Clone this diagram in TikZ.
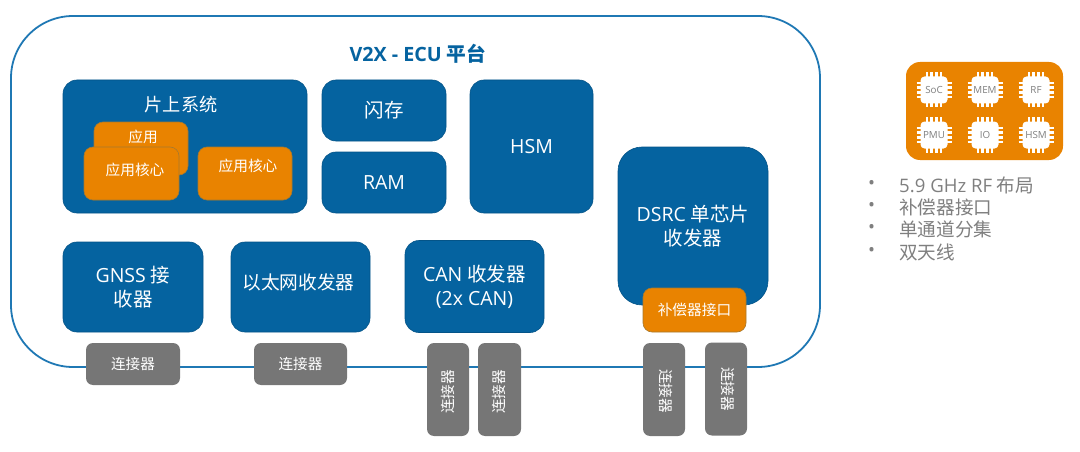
\documentclass[tikz,border=0pt]{standalone}
\usepackage{fontspec}
\setmainfont{Open Sans}
\newfontfamily\cjk{Noto Sans CJK SC}
\definecolor{ecublue}{HTML}{0563A0}
\definecolor{eculine}{HTML}{1F78B4}
\definecolor{ecuorange}{HTML}{E98300}
\definecolor{ecugray}{HTML}{767676}
\definecolor{listgray}{HTML}{7F7F7F}
\tikzset{
  bluebox/.style={draw=ecublue!85!black, line width=0.6pt, fill=ecublue, rounded corners=14pt, text=white, align=center, font=\fontsize{19.5}{24}\selectfont},
  orangebox/.style={draw=ecublue!30!ecuorange, line width=0.6pt, fill=ecuorange, rounded corners=9pt, text=white, align=center, font=\fontsize{14.7}{17}\selectfont},
  orangetext/.style={text=white, inner sep=0pt, font=\fontsize{14.7}{17}\selectfont},
  bluetext/.style={text=white, inner sep=0pt, font=\fontsize{18.7}{24}\selectfont},
  graybox/.style={fill=ecugray, rounded corners=7pt, text=white, align=center, font=\fontsize{14.6}{17}\selectfont},
  chipbox/.style={fill=white, rounded corners=4pt, minimum size=27pt, inner sep=0pt, text=listgray, font=\fontsize{9.8}{10}\selectfont},
  listitem/.style={anchor=west, inner sep=0pt, text=listgray, font=\fontsize{18.6}{22}\selectfont},
}
% one chip of the panel, with its pins
\newcommand{\chipat}[3]{
  \foreach \d in {-7,-2.5,2.5,7} {
    \draw[white, line width=2.2pt] (#1+\d,#2-17.5) -- (#1+\d,#2+17.5);
    \draw[white, line width=2.2pt] (#1-17.5,#2+\d) -- (#1+17.5,#2+\d);
  }
  \node[chipbox] (#3) at (#1,#2) {#3};
}
\begin{document}
\begin{tikzpicture}[x=1pt,y=-1pt]
\useasboundingbox (0,0) rectangle (1080,452);

\node[draw=eculine, line width=1.8pt, fill=white, rounded corners=62pt, minimum width=809pt, minimum height=351pt, inner sep=0pt] (platform) at (415.5,191.5) {};
\node[text=ecublue, font=\bfseries\fontsize{19.7}{22}\selectfont] (title) at (418,54) {V2X - ECU {\cjk 平台}};

% soc
\node[bluebox, minimum width=244pt, minimum height=133pt] (soc) at (185,146.5) {};
\node[text=white, font=\fontsize{18.2}{20}\selectfont] (soclabel) at (181,105) {\cjk 片上系统};
\node[orangebox, minimum width=94pt, minimum height=53pt] (app) at (141,148.5) {};
\node[orangetext] (applabel) at (143,137) {\cjk 应用};
\node[orangebox, minimum width=95pt, minimum height=53pt] (core1) at (131.5,173.5) {};
\node[orangetext] (core1label) at (135,170) {\cjk 应用核心};
\node[orangebox, minimum width=94pt, minimum height=53pt] (core2) at (245,173.5) {};
\node[orangetext] (core2label) at (248,166) {\cjk 应用核心};

\node[bluebox, minimum width=124pt, minimum height=61pt] (flash) at (384,110.5) {\cjk 闪存};
\node[bluebox, minimum width=124pt, minimum height=61pt] (ram) at (384,182.5) {RAM};
\node[bluebox, minimum width=123pt, minimum height=133pt] (hsm) at (531.5,146.5) {HSM};

\node[bluebox, minimum width=140pt, minimum height=90pt] (gnss) at (133,287) {GNSS {\cjk 接}\\{\cjk 收器}};
\node[bluebox, minimum width=139pt, minimum height=90pt] (eth) at (300.5,287) {};
\node[bluetext] (ethlabel) at (298.5,282) {\cjk 以太网收发器};
\node[bluebox, minimum width=139pt, minimum height=92pt] (can) at (474.5,286.5) {CAN {\cjk 收发器}\\(2x CAN)};
\node[bluebox, minimum width=150pt, minimum height=158pt, rounded corners=24pt] (dsrc) at (693,226) {DSRC {\cjk 单芯片}\\{\cjk 收发器}};
\node[orangebox, minimum width=103pt, minimum height=44pt] (comp) at (694.5,310) {\cjk 补偿器接口};

% connectors
\node[graybox, minimum width=94pt, minimum height=42pt] (conn1) at (133,364) {\cjk 连接器};
\node[graybox, minimum width=93pt, minimum height=42pt] (conn2) at (300.5,364) {\cjk 连接器};
\node[graybox, minimum width=42pt, minimum height=93pt] (conn3) at (448,389.5) {};
\node[graybox, rotate=90, inner sep=0pt] (conn3label) at (448,392) {\cjk 连接器};
\node[graybox, minimum width=43pt, minimum height=93pt] (conn4) at (499.5,389.5) {};
\node[graybox, rotate=90, inner sep=0pt] (conn4label) at (499,392) {\cjk 连接器};
\node[graybox, minimum width=42pt, minimum height=93pt] (conn5) at (664,389.5) {};
\node[graybox, rotate=-90, inner sep=0pt] (conn5label) at (666,391) {\cjk 连接器};
\node[graybox, minimum width=42pt, minimum height=93pt] (conn6) at (726,389) {};
\node[graybox, rotate=-90, inner sep=0pt] (conn6label) at (728,389) {\cjk 连接器};

% panel with chips
\node[fill=ecuorange, rounded corners=14pt, minimum width=157pt, minimum height=98pt, inner sep=0pt] (panel) at (984.5,111) {};
\chipat{934}{90}{SoC}
\chipat{985}{90}{MEM}
\chipat{1036}{90}{RF}
\chipat{934}{135}{PMU}
\chipat{985}{135}{IO}
\chipat{1036}{135}{HSM}

% list
\foreach \y/\t [count=\i] in {185/{5.9 GHz RF {\cjk 布局}},207/{\cjk 补偿器接口},229/{\cjk 单通道分集},252/{\cjk 双天线}} {
  \node[listitem] (bullet\i) at (868,\y) {•};
  \node[listitem] (item\i) at (899,\y) {\t};
}
\end{tikzpicture}
\end{document}
